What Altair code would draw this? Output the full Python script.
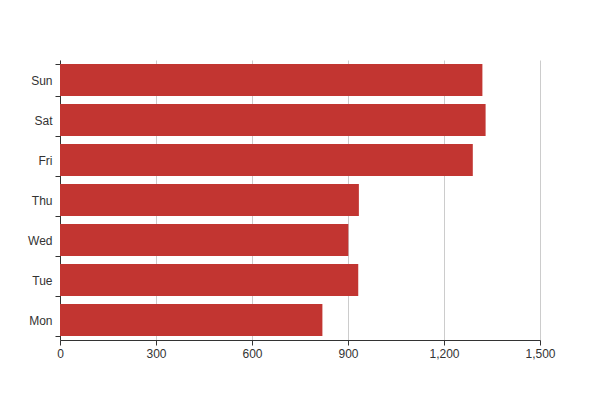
import altair as alt
import pandas as pd

days = ["Mon", "Tue", "Wed", "Thu", "Fri", "Sat", "Sun"]
values = [820, 932, 901, 934, 1290, 1330, 1320]

df = pd.DataFrame({"day": days, "value": values})

font = "Liberation Sans"

chart = alt.Chart(df).mark_bar(color="#c23531").encode(
    x=alt.X("value:Q",
            scale=alt.Scale(domain=[0, 1500], nice=False),
            axis=alt.Axis(values=[0, 300, 600, 900, 1200, 1500], format=",.0f",
                          title=None, grid=True, gridColor="#cccccc",
                          domainColor="#333333", tickColor="#333333",
                          tickSize=5, labelPadding=3, labelColor="#333333",
                          labelFontSize=12, labelFont=font, labelFlush=False)),
    y=alt.Y("day:N", sort=list(reversed(days)),
            scale=alt.Scale(paddingInner=0.2, paddingOuter=0.1),
            axis=alt.Axis(title=None, grid=False, tickBand="extent",
                          domainColor="#333333", tickColor="#333333",
                          tickSize=5, labelPadding=3, labelColor="#333333",
                          labelFontSize=12, labelFont=font)),
).properties(
    width=480, height=280,
    autosize=alt.AutoSizeParams(type="none"),
    padding={"left": 52, "top": 52, "right": 52, "bottom": 52},
).configure_view(stroke=None)

chart.save("out.html", embed_options={"renderer": "svg", "actions": False})
